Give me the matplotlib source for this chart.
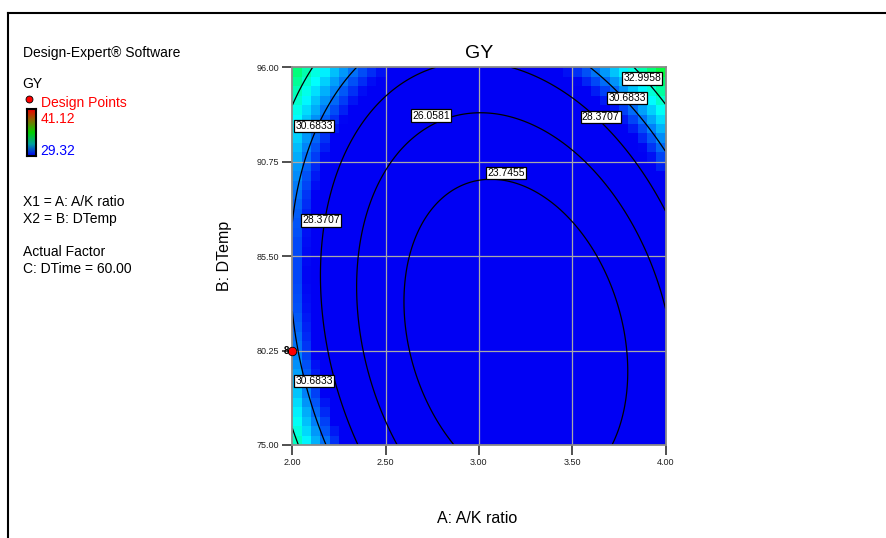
import numpy as np
import matplotlib
matplotlib.use("Agg")
import matplotlib.pyplot as plt
from matplotlib.colors import LinearSegmentedColormap
from matplotlib.lines import Line2D

plt.rcParams["font.family"] = ["Liberation Sans", "DejaVu Sans"]

# ---- data ----
# fitted quadratic response surface for GY in coded units
# (A coded = (A - 3) / 1, B coded = (B - 85.5) / 10.5), C held at 60
coef_intercept = 22.19
coef_A = -1.716
coef_B = 2.495
coef_AA = 6.6
coef_BB = 3.424
coef_AB = 2.112

contour_levels = [23.7455, 26.0581, 28.3707, 30.6833, 32.9958]
# (level index, A, B) where each contour label box sits
label_level = [0, 1, 2, 2, 3, 3, 3, 4]
label_a = [3.145, 2.743, 3.652, 2.154, 3.794, 2.116, 2.116, 3.875]
label_b = [90.13, 93.32, 93.24, 87.49, 94.29, 92.74, 78.57, 95.38]

x_ticks = [2.00, 2.50, 3.00, 3.50, 4.00]
y_ticks = [75.00, 80.25, 85.50, 90.75, 96.00]
gy_low, gy_high = 29.32, 41.12

design_x = [2.00]
design_y = [80.25]
design_count = ["8"]

legend_lines = ["X1 = A: A/K ratio", "X2 = B: DTemp"]
factor_lines = ["Actual Factor", "C: DTime = 60.00"]


def gy(x, y):
    a = (x - 3.0) / 1.0
    b = (y - 85.5) / 10.5
    return (coef_intercept + coef_A * a + coef_B * b + coef_AA * a ** 2
            + coef_BB * b ** 2 + coef_AB * a * b)


W, H = 886, 538
fig = plt.figure(figsize=(W / 100, H / 100), dpi=100)


def fx(px):
    return px / W


def fy(py):
    return 1 - py / H


cmap = LinearSegmentedColormap.from_list(
    "dx", ["#0000f4", "#00ffff", "#00ff00", "#ffff00", "#ff0000"])
bar_cmap = LinearSegmentedColormap.from_list(
    "dxbar", ["#0000f0", "#00a0a0", "#00d000", "#807000", "#f00000"])

ax = fig.add_axes([fx(292.3), fy(445), (665.5 - 292.3) / W, (445 - 67.3) / H])

# pixelated colour map (40 x 40 cells)
xe = np.linspace(x_ticks[0], x_ticks[-1], 41)
ye = np.linspace(y_ticks[0], y_ticks[-1], 41)
xc = (xe[:-1] + xe[1:]) / 2
yc = (ye[:-1] + ye[1:]) / 2
XC, YC = np.meshgrid(xc, yc)
ax.pcolormesh(xe, ye, gy(XC, YC), cmap=cmap, vmin=gy_low, vmax=gy_high,
              shading="flat", zorder=1)

# grid lines
for xv in x_ticks[1:-1]:
    ax.axvline(xv, color="#a8a8a8", lw=0.9, zorder=2)
for yv in y_ticks[1:-1]:
    ax.axhline(yv, color="#a8a8a8", lw=0.9, zorder=2)

# contour lines
xf = np.linspace(x_ticks[0], x_ticks[-1], 300)
yf = np.linspace(y_ticks[0], y_ticks[-1], 300)
XF, YF = np.meshgrid(xf, yf)
ax.contour(XF, YF, gy(XF, YF), levels=contour_levels, colors="black",
           linewidths=0.9, zorder=3)
for li, a, b in zip(label_level, label_a, label_b):
    ax.text(a, b, f"{contour_levels[li]:.4f}", ha="center", va="center",
            fontsize=7.5, color="black", zorder=5, clip_on=True,
            bbox=dict(facecolor="white", edgecolor="black", lw=0.9,
                      boxstyle="square,pad=0.12"))

# design points
ax.scatter(design_x, design_y, s=38, color="#ff0000", edgecolor="black",
           linewidths=0.6, zorder=6, clip_on=False)
for x, y, c in zip(design_x, design_y, design_count):
    ax.text(x - 0.016, y, c, ha="right", va="center", fontsize=7,
            fontweight="bold", color="black", zorder=6)

ax.set_xlim(x_ticks[0], x_ticks[-1])
ax.set_ylim(y_ticks[0], y_ticks[-1])
ax.set_xticks(x_ticks)
ax.set_yticks(y_ticks)
ax.set_xticklabels([f"{v:.2f}" for v in x_ticks])
ax.set_yticklabels([f"{v:.2f}" for v in y_ticks])
ax.tick_params(direction="out", length=7, width=1.1, color="#202020",
               labelsize=6.5, labelcolor="#202020", pad=2.5)
for sp in ax.spines.values():
    sp.set_color("#8a8a8a")
    sp.set_linewidth(1.3)
    sp.set_zorder(4)

fig.text(fx(478.9), fy(58.5), "GY", ha="center", va="baseline", fontsize=14)
fig.text(fx(477), fy(523), "A: A/K ratio", ha="center", va="baseline",
         fontsize=11.5)
fig.text(fx(224.5), fy(256), "B: DTemp", ha="center", va="center",
         rotation=90, fontsize=11.5)

# left-hand information panel
fig.text(fx(22.7), fy(57), "Design-Expert\u00ae Software", fontsize=10,
         va="baseline")
fig.text(fx(22.7), fy(88), "GY", fontsize=10, va="baseline")
fig.add_artist(Line2D([fx(29.3)], [fy(99.3)], marker="o", markersize=5,
                      markerfacecolor="#ff0000", markeredgecolor="black",
                      markeredgewidth=0.6, linestyle="none"))
fig.text(fx(40.7), fy(107), "Design Points", fontsize=10, color="#ff0000",
         va="baseline")
fig.text(fx(40.7), fy(122.7), f"{gy_high:.2f}", fontsize=10, color="#ff0000",
         va="baseline")
fig.text(fx(40.7), fy(155), f"{gy_low:.2f}", fontsize=10, color="#0000ff",
         va="baseline")
cax = fig.add_axes([fx(27), fy(156), 9 / W, 47 / H])
cax.imshow(np.linspace(gy_high, gy_low, 100)[:, None], cmap=bar_cmap,
           vmin=gy_low, vmax=gy_high, aspect="auto")
cax.set_xticks([])
cax.set_yticks([])
for sp in cax.spines.values():
    sp.set_color("black")
    sp.set_linewidth(1.5)

for i, s in enumerate(legend_lines):
    fig.text(fx(22.7), fy(206 + 16.5 * i), s, fontsize=10, va="baseline")
for i, s in enumerate(factor_lines):
    fig.text(fx(22.7), fy(256 + 17 * i), s, fontsize=10, va="baseline")

# outer frame
fig.add_artist(Line2D([fx(7.5), fx(7.5)], [0, fy(13)], color="black", lw=1.5))
fig.add_artist(Line2D([fx(7.5), 1], [fy(13), fy(13)], color="black", lw=1.5))

fig.savefig("out.png", dpi=100)
